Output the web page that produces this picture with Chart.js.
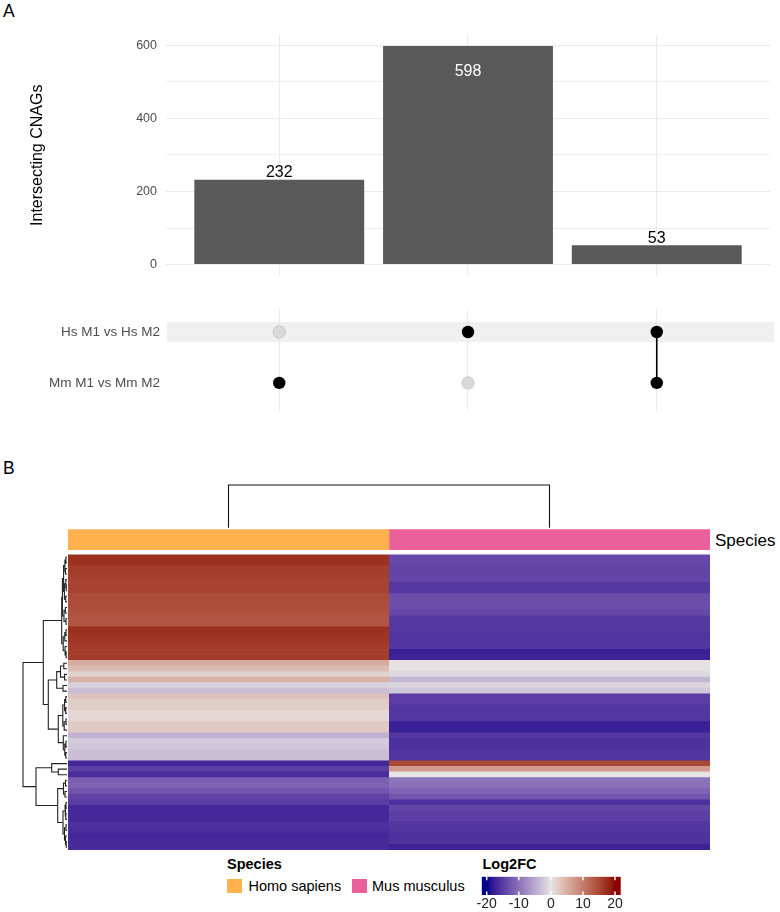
<!DOCTYPE html>
<html><head><meta charset="utf-8">
<script src="https://cdn.jsdelivr.net/npm/chart.js@4.4.1/dist/chart.umd.min.js"></script>
<style>
html,body{margin:0;padding:0;background:#fff;}
#fig{position:relative;width:780px;height:912px;overflow:hidden;background:#fff;font-family:"Liberation Sans",Arial,Helvetica,sans-serif;}
#fig canvas{position:absolute;}
.txt{position:absolute;white-space:nowrap;color:#000;}
.sw{position:absolute;}
</style></head><body>
<div id="fig"></div>
<script>
// ---------------- DATA ----------------
const intersectionLabels = ['Mm M1 vs Mm M2 only', 'Hs M1 vs Hs M2 only', 'Hs & Mm'];
const intersectionSizes = [232, 598, 53];
const setNames = ['Hs M1 vs Hs M2', 'Mm M1 vs Mm M2'];
// membership[i] = [in Hs set, in Mm set] for each intersection
const membership = [[0, 1], [1, 0], [1, 1]];
const yTickValues = [0, 100, 200, 300, 400, 500, 600];

const annotationName = 'Species';
const speciesNames = ['Homo sapiens', 'Mus musculus'];
const speciesColors = ['#FFB14E', '#E9609A'];
const rowIds = Array.from({length: 53}, (_, i) => 'CNAG' + (i + 1));
const log2fcHs = [17.3, 17.1, 16.2, 16.0, 15.6, 15.4, 15.6, 14.8, 14.6, 14.5, 14.2, 13.9, 13.8,
  17.3, 17.0, 16.8, 16.2, 16.0, 16.2,
  5.6, 3.9, 1.8, 5.0, -1.7, -3.1,
  3.1, 2.2, 2.2, 1.3, 1.3, 2.6, 2.6, -4.2, -2.2, -2.4, -3.1, -3.1,
  -17.0, -14.7, -16.3, -11.7, -11.4, -12.5, -14.3, -14.8, -16.7, -16.7, -16.7, -16.0, -16.2, -16.8, -16.5, -16.5];
const log2fcMm = [-13.8, -13.8, -14.2, -14.2, -14.0, -15.3, -15.3, -13.3, -13.2, -13.3, -13.8, -15.3, -15.2,
  -15.3, -15.7, -15.7, -15.6, -17.5, -17.3,
  0.2, 0.2, -1.0, -3.8, -1.3, -2.4,
  -14.8, -14.8, -15.5, -15.5, -15.5, -17.5, -17.5, -15.4, -16.0, -16.0, -15.6, -15.6,
  15.0, 7.1, 0.0, -9.8, -10.0, -11.2, -12.6, -16.0, -14.0, -14.6, -14.6, -15.6, -15.6, -15.9, -15.9, -17.3];
const heatValues = [log2fcHs, log2fcMm];

// row dendrogram: [height, left, right], leaves = row index
const rowTree = [44,
  [23.7,
    [5.3,
      [4.6, [3.4, [2.1, [1.1, 0, 1], [1.5, 2, 3]], [2.6, [1.2, 4, [0.7, 5, 6]], [1.3, 7, 8]]], [3.0, [1.6, 9, 10], [1.0, 11, 12]]],
      [3.8, [2.2, [1.0, 13, 14], 15], [1.9, 16, [0.9, 17, 18]]]],
    [18.7,
      [10.3, [6.5, [3.2, 19, 20], [2.4, 21, 22]], [4.0, 23, 24]],
      [8.7, [4.2, [2.4, [1.2, 25, 26], [1.3, 27, 28]], [2.8, [1.0, 29, 30], 31]], [3.7, 32, [2.2, [1.1, 33, 34], [1.2, 35, 36]]]]]],
  [31,
    [15.3, 37, [8.7, 38, 39]],
    [9.3, [3.5, [1.5, 40, 41], [2.0, 42, 43]], [4.0, [2.0, [1.0, 44, 45], [1.2, 46, 47]], [2.5, [1.0, 48, 49], [1.5, 50, [0.8, 51, 52]]]]]]];
const colTree = [1, 0, 1];

const colorBreaks = [-20, 0, 20];
const colorStops = ['#00008B', '#E6E4E4', '#8B0000'];
const legendTicks = [-20, -10, 0, 10, 20];
const legendRange = [-21.56, 21.78];

// ---------------- helpers ----------------
Chart.defaults.font.family = '"Liberation Sans", Arial, Helvetica, sans-serif';
const fig = document.getElementById('fig');
function mk(left, top, w, h) {
  const c = document.createElement('canvas');
  c.width = w; c.height = h;
  c.style.left = left + 'px'; c.style.top = top + 'px';
  c.style.width = w + 'px'; c.style.height = h + 'px';
  fig.appendChild(c);
  return c;
}
function txt(s, x, baseline, size, bold) {
  const d = document.createElement('div');
  d.className = 'txt'; d.textContent = s;
  d.style.left = x + 'px';
  d.style.fontSize = size + 'px';
  d.style.lineHeight = size + 'px';
  d.style.top = (baseline - 0.8465 * size) + 'px';
  if (bold) d.style.fontWeight = 'bold';
  fig.appendChild(d);
}
function hex2rgb(h) { h = h.replace('#', ''); return [0, 2, 4].map(i => parseInt(h.substr(i, 2), 16)); }
function s2l(c) { c /= 255; return c <= 0.04045 ? c / 12.92 : Math.pow((c + 0.055) / 1.055, 2.4); }
function l2s(c) { c = c <= 0.0031308 ? 12.92 * c : 1.055 * Math.pow(c, 1 / 2.4) - 0.055; return Math.round(Math.max(0, Math.min(1, c)) * 255); }
function rgb2lab(rgb) {
  const [r, g, b] = rgb.map(s2l);
  const X = (0.4124 * r + 0.3576 * g + 0.1805 * b) / 0.95047, Y = 0.2126 * r + 0.7152 * g + 0.0722 * b, Z = (0.0193 * r + 0.1192 * g + 0.9505 * b) / 1.08883;
  const f = t => t > 0.008856 ? Math.cbrt(t) : 7.787 * t + 16 / 116;
  const fx = f(X), fy = f(Y), fz = f(Z);
  return [116 * fy - 16, 500 * (fx - fy), 200 * (fy - fz)];
}
function lab2rgb([L, a, b]) {
  const fy = (L + 16) / 116, fx = fy + a / 500, fz = fy - b / 200;
  const fi = t => t * t * t > 0.008856 ? t * t * t : (t - 16 / 116) / 7.787;
  const X = fi(fx) * 0.95047, Y = fi(fy), Z = fi(fz) * 1.08883;
  return [l2s(3.2406 * X - 1.5372 * Y - 0.4986 * Z), l2s(-0.9689 * X + 1.8758 * Y + 0.0415 * Z), l2s(0.0557 * X - 0.2040 * Y + 1.0570 * Z)];
}
const stopLabs = colorStops.map(c => rgb2lab(hex2rgb(c)));
function colorFor(v) {
  v = Math.max(colorBreaks[0], Math.min(colorBreaks[colorBreaks.length - 1], v));
  let i = 0;
  while (i < colorBreaks.length - 2 && v > colorBreaks[i + 1]) i++;
  const t = (v - colorBreaks[i]) / (colorBreaks[i + 1] - colorBreaks[i]);
  const a = stopLabs[i], b = stopLabs[i + 1];
  const rgb = lab2rgb([0, 1, 2].map(k => a[k] + (b[k] - a[k]) * t));
  return 'rgb(' + rgb.join(',') + ')';
}
function layoutTree(node, segs) {
  if (typeof node === 'number') return {p: node, h: 0};
  const [h, l, r] = node;
  const A = layoutTree(l, segs), B = layoutTree(r, segs);
  segs.push([A.h, A.p], [h, A.p], [h, B.p], [B.h, B.p], [NaN, NaN]);
  return {p: (A.p + B.p) / 2, h};
}

// ---------------- text ----------------
txt('A', 3, 18.3, 17.5);
txt('B', 3, 475, 17.5);
txt(annotationName, 715, 546, 17);
txt('Species', 227, 869, 14.5, true);
txt('Log2FC', 482.5, 869, 14.5, true);
txt(speciesNames[0], 248.5, 891.5, 14.5);
txt(speciesNames[1], 372, 891.5, 14.5);
[[227.3, 0], [351.7, 1]].forEach(([x, c]) => {
  const d = document.createElement('div'); d.className = 'sw';
  d.style.cssText = 'left:' + x + 'px;top:879.3px;width:15px;height:14px;background:' + speciesColors[c];
  fig.appendChild(d);
});

// ---------------- Panel A: bar chart ----------------
const maxSize = Math.max(...intersectionSizes);
const barLabels = {
  id: 'barLabels',
  afterDatasetsDraw(chart) {
    const ctx = chart.ctx;
    const meta = chart.getDatasetMeta(0);
    ctx.save();
    ctx.font = '16px "Liberation Sans", Arial, sans-serif';
    ctx.textAlign = 'center';
    ctx.textBaseline = 'alphabetic';
    meta.data.forEach((el, i) => {
      const v = intersectionSizes[i];
      if (v > 0.9 * maxSize) { ctx.fillStyle = '#fff'; ctx.fillText(String(v), el.x, el.y + 30); }
      else { ctx.fillStyle = '#000'; ctx.fillText(String(v), el.x, el.y - 2.5); }
    });
    ctx.restore();
  }
};
const xIntersect = () => ({
  type: 'linear', min: 0.4, max: 3.6, offset: false,
  afterBuildTicks: s => { s.ticks = intersectionSizes.map((v, i) => ({value: i + 1})); },
  ticks: {display: false},
  grid: {color: '#EBEBEB', drawTicks: false, lineWidth: 1.1, offset: false},
  border: {display: false},
  afterFit: s => { s.height = 0; }
});
new Chart(mk(0, 0, 780, 292), {
  type: 'bar',
  data: {
    datasets: [{
      data: intersectionSizes.map((v, i) => ({x: i + 1, y: v})),
      backgroundColor: '#595959', borderWidth: 0,
      barPercentage: 0.9, categoryPercentage: 1
    }]
  },
  options: {
    responsive: false, animation: false, devicePixelRatio: 1,
    layout: {padding: {left: 24.4, right: 10, top: 35, bottom: 15}},
    plugins: {legend: {display: false}, tooltip: {enabled: false}},
    scales: {
      x: xIntersect(),
      y: {
        type: 'linear', min: -29.9, max: 627.9,
        afterBuildTicks: s => { s.ticks = yTickValues.map(v => ({value: v})); },
        ticks: {callback: v => (v % 200 === 0 ? String(v) : ''), color: '#4D4D4D', font: {size: 12.5}, padding: 9, autoSkip: false},
        grid: {color: '#EBEBEB', drawTicks: false, lineWidth: c => (c.tick && c.tick.value % 200 === 0 ? 1.1 : 0.8)},
        border: {display: false},
        title: {display: true, text: 'Intersecting CNAGs', color: '#000', font: {size: 16}},
        afterFit: s => { s.width = 141.6; }
      }
    }
  },
  plugins: [barLabels]
});

// ---------------- Panel A: matrix ----------------
const lineData = [], onData = [], offData = [];
membership.forEach((m, i) => {
  const idx = [];
  m.forEach((f, s) => { (f ? onData : offData).push({x: i + 1, y: s + 1}); if (f) idx.push(s + 1); });
  if (idx.length > 1) lineData.push({x: i + 1, y: Math.min(...idx)}, {x: i + 1, y: Math.max(...idx)}, {x: NaN, y: NaN});
});
const bandPlugin = {
  id: 'band',
  beforeDraw(chart) {
    const {ctx, chartArea, scales: {y}} = chart;
    ctx.save();
    ctx.fillStyle = '#F0F0F0';
    setNames.forEach((n, s) => {
      if (s % 2 !== 0) return;
      const y0 = y.getPixelForValue(s + 1 - 0.195), y1 = y.getPixelForValue(s + 1 + 0.195);
      ctx.fillRect(chartArea.left + 1, Math.min(y0, y1), chartArea.right - chartArea.left + 3, Math.abs(y1 - y0));
    });
    ctx.restore();
  }
};
new Chart(mk(0, 295, 780, 130), {
  type: 'scatter',
  data: {
    datasets: [
      {data: onData, pointRadius: 6.2, backgroundColor: '#000', borderWidth: 0, order: 1},
      {data: offData, pointRadius: 6.2, backgroundColor: '#D9D9D9', borderColor: '#C2C2C2', borderWidth: 0.8, order: 2},
      {data: lineData, showLine: true, borderColor: '#000', borderWidth: 1.6, pointRadius: 0, order: 3, spanGaps: false}
    ]
  },
  options: {
    responsive: false, animation: false, devicePixelRatio: 1,
    layout: {padding: {left: 0, right: 10, top: 10, bottom: 7}},
    plugins: {legend: {display: false}, tooltip: {enabled: false}},
    scales: {
      x: xIntersect(),
      y: {
        type: 'linear', min: 0.55, max: 2.55, reverse: true,
        afterBuildTicks: s => { s.ticks = setNames.map((n, i) => ({value: i + 1})); },
        ticks: {callback: v => setNames[v - 1], color: '#4D4D4D', font: {size: 13.5}, padding: 6, autoSkip: false},
        grid: {display: false, drawTicks: false},
        border: {display: false},
        afterFit: s => { s.width = 166; }
      }
    }
  },
  plugins: [bandPlugin]
});

// ---------------- Panel B: column dendrogram ----------------
const colSegs = []; layoutTree(colTree, colSegs);
new Chart(mk(0, 478, 780, 52), {
  type: 'scatter',
  data: {datasets: [{data: colSegs.map(([h, p]) => ({x: p + 0.5, y: h})), showLine: true, borderColor: '#111', borderWidth: 1.1, pointRadius: 0, clip: false}]},
  options: {
    responsive: false, animation: false, devicePixelRatio: 1,
    layout: {padding: {left: 68, right: 70, top: 7, bottom: 2.3}},
    plugins: {legend: {display: false}, tooltip: {enabled: false}},
    scales: {x: {type: 'linear', min: 0, max: 2, display: false}, y: {type: 'linear', min: 0, max: 1, display: false}}
  }
});

// ---------------- Panel B: species annotation ----------------
new Chart(mk(0, 525, 780, 30), {
  type: 'bar',
  data: {
    labels: [annotationName],
    datasets: speciesNames.map((sp, c) => ({
      label: sp,
      data: [[c, c + 1]],
      backgroundColor: speciesColors[c], borderWidth: 0, barPercentage: 1, categoryPercentage: 1, grouped: false
    }))
  },
  options: {
    indexAxis: 'y', responsive: false, animation: false, devicePixelRatio: 1,
    layout: {padding: {left: 68, right: 70, top: 4.3, bottom: 5}},
    plugins: {legend: {display: false}, tooltip: {enabled: false}},
    scales: {
      x: {type: 'linear', min: 0, max: 2, display: false},
      y: {display: false}
    }
  }
});

// ---------------- Panel B: heatmap ----------------
new Chart(mk(0, 550, 780, 305), {
  type: 'bar',
  data: {
    labels: rowIds,
    datasets: speciesNames.map((sp, c) => ({
      label: sp,
      data: heatValues[c].map((v, r) => ({y: rowIds[r], x: [c, c + 1], v})),
      backgroundColor: ctx => (ctx.raw ? colorFor(ctx.raw.v) : '#ccc'),
      borderWidth: 0, inflateAmount: 0, grouped: false, barPercentage: 1.14, categoryPercentage: 1
    }))
  },
  options: {
    indexAxis: 'y', responsive: false, animation: false, devicePixelRatio: 1,
    layout: {padding: {left: 68, right: 70, top: 4.5, bottom: 5}},
    plugins: {legend: {display: false}, tooltip: {enabled: false}},
    scales: {x: {type: 'linear', min: 0, max: 2, display: false}, y: {type: 'category', display: false}}
  }
});

// ---------------- Panel B: row dendrogram ----------------
const rowSegs = []; layoutTree(rowTree, rowSegs);
new Chart(mk(0, 550, 80, 305), {
  type: 'scatter',
  data: {datasets: [{data: rowSegs.map(([h, p]) => ({x: h, y: p})), showLine: true, borderColor: '#222', borderWidth: 1.1, pointRadius: 0, clip: false}]},
  options: {
    responsive: false, animation: false, devicePixelRatio: 1,
    layout: {padding: {left: 21, right: 13, top: 4.5, bottom: 5}},
    plugins: {legend: {display: false}, tooltip: {enabled: false}},
    scales: {
      x: {type: 'linear', min: 0, max: 46, reverse: true, display: false},
      y: {type: 'linear', min: -0.5, max: rowIds.length - 0.5, reverse: true, display: false}
    }
  }
});

// ---------------- Panel B: colour legend ----------------
const cbTicks = {
  id: 'cbTicks',
  afterDatasetsDraw(chart) {
    const {ctx, chartArea, scales: {x}} = chart;
    ctx.save();
    ctx.strokeStyle = '#fff'; ctx.lineWidth = 1.5;
    legendTicks.forEach(v => {
      const px = x.getPixelForValue(v);
      ctx.beginPath();
      ctx.moveTo(px, chartArea.top); ctx.lineTo(px, chartArea.top + 3.5);
      ctx.moveTo(px, chartArea.bottom - 3.5); ctx.lineTo(px, chartArea.bottom);
      ctx.stroke();
    });
    ctx.restore();
  }
};
new Chart(mk(440, 868, 220, 44), {
  type: 'bar',
  data: {
    labels: ['Log2FC'],
    datasets: [{
      data: [legendRange],
      backgroundColor: ctx => {
        const chart = ctx.chart;
        if (!chart.chartArea) return '#ddd';
        const xs = chart.scales.x;
        const g = chart.ctx.createLinearGradient(xs.getPixelForValue(-20), 0, xs.getPixelForValue(20), 0);
        for (let k = 0; k <= 40; k++) g.addColorStop(k / 40, colorFor(-20 + k));
        return g;
      },
      borderWidth: 0, barPercentage: 1, categoryPercentage: 1
    }]
  },
  options: {
    indexAxis: 'y', responsive: false, animation: false, devicePixelRatio: 1,
    layout: {padding: {left: 41.7, right: 39.3, top: 8.7, bottom: 0}},
    plugins: {legend: {display: false}, tooltip: {enabled: false}},
    scales: {
      x: {
        type: 'linear', min: legendRange[0], max: legendRange[1],
        afterBuildTicks: s => { s.ticks = legendTicks.map(v => ({value: v})); },
        grid: {display: false, drawTicks: false}, border: {display: false},
        ticks: {color: '#222', font: {size: 14}, padding: 1, maxRotation: 0, autoSkip: false},
        afterFit: s => { s.height = 17; }
      },
      y: {display: false}
    }
  },
  plugins: [cbTicks]
});
</script>
</body></html>
